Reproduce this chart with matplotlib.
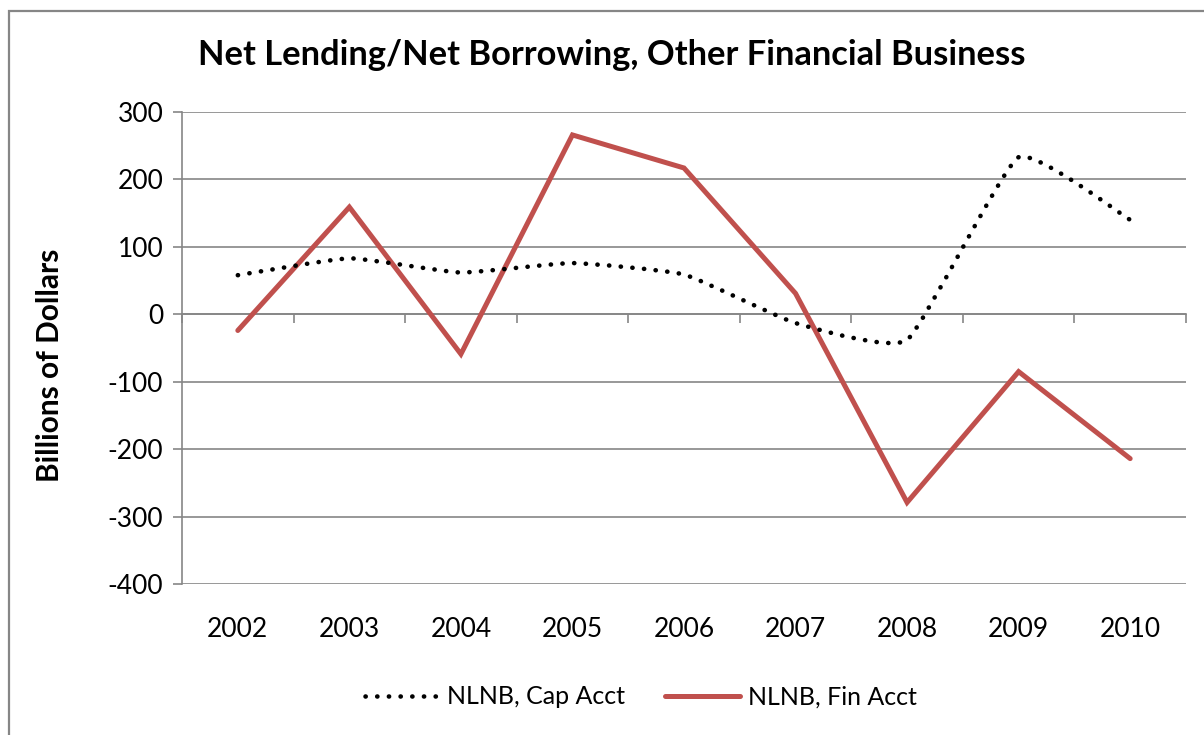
import matplotlib
matplotlib.use("Agg")
import matplotlib.pyplot as plt
from matplotlib.path import Path
from matplotlib.patches import PathPatch, Rectangle
from matplotlib.lines import Line2D
import numpy as np

plt.rcParams['font.family'] = ['Lato', 'DejaVu Sans']
plt.rcParams['axes.unicode_minus'] = False

# data (billions of dollars)
years = ['2002', '2003', '2004', '2005', '2006', '2007', '2008', '2009', '2010']
cap_acct = [58, 83, 62, 76, 59, -13, -38, 233, 140]
fin_acct = [-24, 159, -59, 266, 217, 31, -279, -85, -214]

TITLE = 'Net Lending/Net Borrowing, Other Financial Business'
YLABEL = 'Billions of Dollars'
LABEL_CAP = 'NLNB, Cap Acct'
LABEL_FIN = 'NLNB, Fin Acct'

YMIN, YMAX, YSTEP = -400, 300, 100

GRID = '#868686'
RED = '#C0504D'
DOT_LW = 3.3
DOT_DASH = (0, (0.05, 2.5))


def smooth_path(x, y, k=0.07):
    """Excel-like smoothed line: cubic bezier through every point."""
    pts = np.column_stack([x, y]).astype(float)
    n = len(pts)
    verts = [pts[0]]
    codes = [Path.MOVETO]
    for i in range(n - 1):
        p0 = pts[max(i - 1, 0)]
        p1 = pts[i]
        p2 = pts[i + 1]
        p3 = pts[min(i + 2, n - 1)]
        c1 = p1 + (p2 - p0) * k
        c2 = p2 - (p3 - p1) * k
        verts += [c1, c2, p2]
        codes += [Path.CURVE4] * 3
    return Path(verts, codes)


fig = plt.figure(figsize=(12.04, 7.35), dpi=100)
ax = fig.add_axes([0.1512, 0.2054, 0.8338, 0.6422])

# outer chart border (runs off the right and bottom edges like the reference)
fig.patches.append(Rectangle((9 / 1204, -0.1), 1.2, 1.1 - 11 / 735,
                             transform=fig.transFigure, fill=False,
                             edgecolor=GRID, linewidth=1.6))

xs = np.arange(len(years))

ax.plot(xs, fin_acct, color=RED, linewidth=3.6, solid_joinstyle='miter',
        solid_capstyle='round', zorder=3)
ax.add_patch(PathPatch(smooth_path(xs, cap_acct), fill=False, edgecolor='black',
                       linewidth=DOT_LW, linestyle=DOT_DASH, capstyle='round',
                       zorder=4))

ax.set_xlim(-0.5, len(years) - 0.5)
ax.set_ylim(YMIN, YMAX)
ax.set_yticks(np.arange(YMIN, YMAX + 1, YSTEP))
ax.yaxis.grid(True, color=GRID, linewidth=1.2)
ax.set_axisbelow(True)

for s in ('top', 'right'):
    ax.spines[s].set_visible(False)
ax.spines['left'].set_color(GRID)
ax.spines['left'].set_linewidth(1.2)

# category axis crosses at zero, tick marks between categories
ax.spines['bottom'].set_position(('data', 0))
ax.spines['bottom'].set_color(GRID)
ax.spines['bottom'].set_linewidth(1.2)
ax.set_xticks(np.arange(-0.5, len(years), 1.0))
ax.tick_params(axis='x', direction='out', length=6.5, width=1.2, color=GRID,
               labelbottom=False)
ax.tick_params(axis='y', direction='out', length=6.5, width=1.2, color=GRID,
               labelsize=19, pad=7)

# year labels below the plot area
sec = ax.secondary_xaxis(0.0)
sec.set_xticks(xs, years)
sec.tick_params(length=0, labelsize=19, pad=24)
sec.spines['bottom'].set_visible(False)

fig.text(0.508, 0.925, TITLE, ha='center', va='center', fontsize=24.8,
         fontweight='bold')
fig.text(50 / 1204, 0.503, YLABEL, ha='center', va='center', rotation=90,
         fontsize=21.5, fontweight='bold')

handles = [Line2D([], [], color='black', linewidth=DOT_LW, linestyle=DOT_DASH,
                  dash_capstyle='round'),
           Line2D([], [], color=RED, linewidth=3.6, solid_capstyle='round')]
fig.legend(handles, [LABEL_CAP, LABEL_FIN], loc='center',
           bbox_to_anchor=(0.532, 0.052), ncol=2, frameon=False, fontsize=18,
           handlelength=3.0, handletextpad=0.3, columnspacing=1.6)

fig.savefig('out.png', dpi=100)
